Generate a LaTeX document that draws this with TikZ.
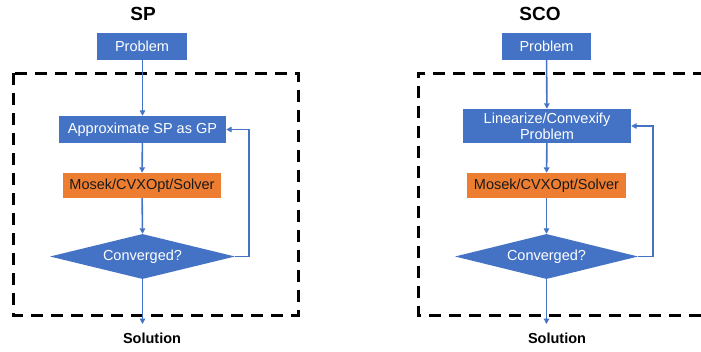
\documentclass[tikz,border=0pt]{standalone}
\usepackage{fontspec}
\setmainfont{Liberation Sans}
\usetikzlibrary{arrows.meta,shapes.geometric}
\definecolor{boxblue}{HTML}{4472C4}
\definecolor{boxorange}{HTML}{ED7D31}
\definecolor{darktext}{HTML}{1A1A1A}
\tikzset{
  bluebox/.style={rectangle, fill=boxblue, text=white, inner sep=0pt,
    font=\fontsize{14.5}{16}\selectfont, align=center},
  solverbox/.style={rectangle, fill=boxorange, text=darktext, inner sep=0pt,
    font=\fontsize{14.5}{16}\selectfont},
  decision/.style={diamond, aspect=4, fill=boxblue, text=white, inner sep=0pt,
    minimum width=185pt, minimum height=45pt, font=\fontsize{14.5}{16}\selectfont},
  heading/.style={font=\bfseries\fontsize{19}{22}\selectfont, inner sep=0pt},
  endlabel/.style={font=\bfseries\fontsize{14.5}{16}\selectfont, inner sep=0pt},
  flow/.style={draw=boxblue, line width=1.6pt, -{Triangle[length=5.5pt,width=5.5pt]}},
  frame/.style={draw=black, line width=3pt, dash pattern=on 12pt off 8pt}
}
\begin{document}
\begin{tikzpicture}[x=1pt,y=-1pt]
  \useasboundingbox (0,0) rectangle (701,351);

  % ---- SP ----
  \draw[frame] (13,73) rectangle (298,315);
  \node[heading] (t1) at (143,14) {SP};
  \node[bluebox, minimum width=90pt, minimum height=27pt] (p1) at (142,46.5) {Problem};
  \node[bluebox, minimum width=167pt, minimum height=27pt] (a1) at (142.5,129.5) {Approximate SP as GP};
  \node[solverbox, minimum width=158pt, minimum height=25pt] (m1) at (142,185.5) {Mosek/CVXOpt/Solver};
  \node[decision] (c1) at (142.5,256.5) {Converged?};
  \node[endlabel] (s1) at (152,338) {Solution};
  \coordinate (f1) at (249,256.5);
  \coordinate (e1) at (142.5,324);

  \draw[flow] (p1.south -| a1) -- (a1.north);
  \draw[flow] (a1) -- (m1);
  \draw[flow] (m1) -- (c1.north);
  \draw[flow] (c1.east) -- (f1) |- (a1.east);
  \draw[flow] (c1.south) -- (e1);

  % ---- SCO ----
  \draw[frame] (705,73) -- (418,73) -- (418,315) -- (705,315);
  \node[heading] (t2) at (540,14) {SCO};
  \node[bluebox, minimum width=89pt, minimum height=27pt] (p2) at (546.5,46.5) {Problem};
  \node[bluebox, minimum width=168pt, minimum height=34pt] (l2) at (547,126) {Linearize/Convexify\\Problem};
  \node[solverbox, minimum width=159pt, minimum height=25pt] (m2) at (546.5,185.5) {Mosek/CVXOpt/Solver};
  \node[decision, minimum width=183pt] (c2) at (546.5,256.5) {Converged?};
  \node[endlabel] (s2) at (557,338) {Solution};
  \coordinate (f2) at (653,256.5);
  \coordinate (e2) at (546.5,324);

  \draw[flow] (p2) -- (l2);
  \draw[flow] (l2) -- (m2);
  \draw[flow] (m2) -- (c2.north);
  \draw[flow] (c2.east) -- (f2) |- (l2.east);
  \draw[flow] (c2.south) -- (e2);
\end{tikzpicture}
\end{document}
